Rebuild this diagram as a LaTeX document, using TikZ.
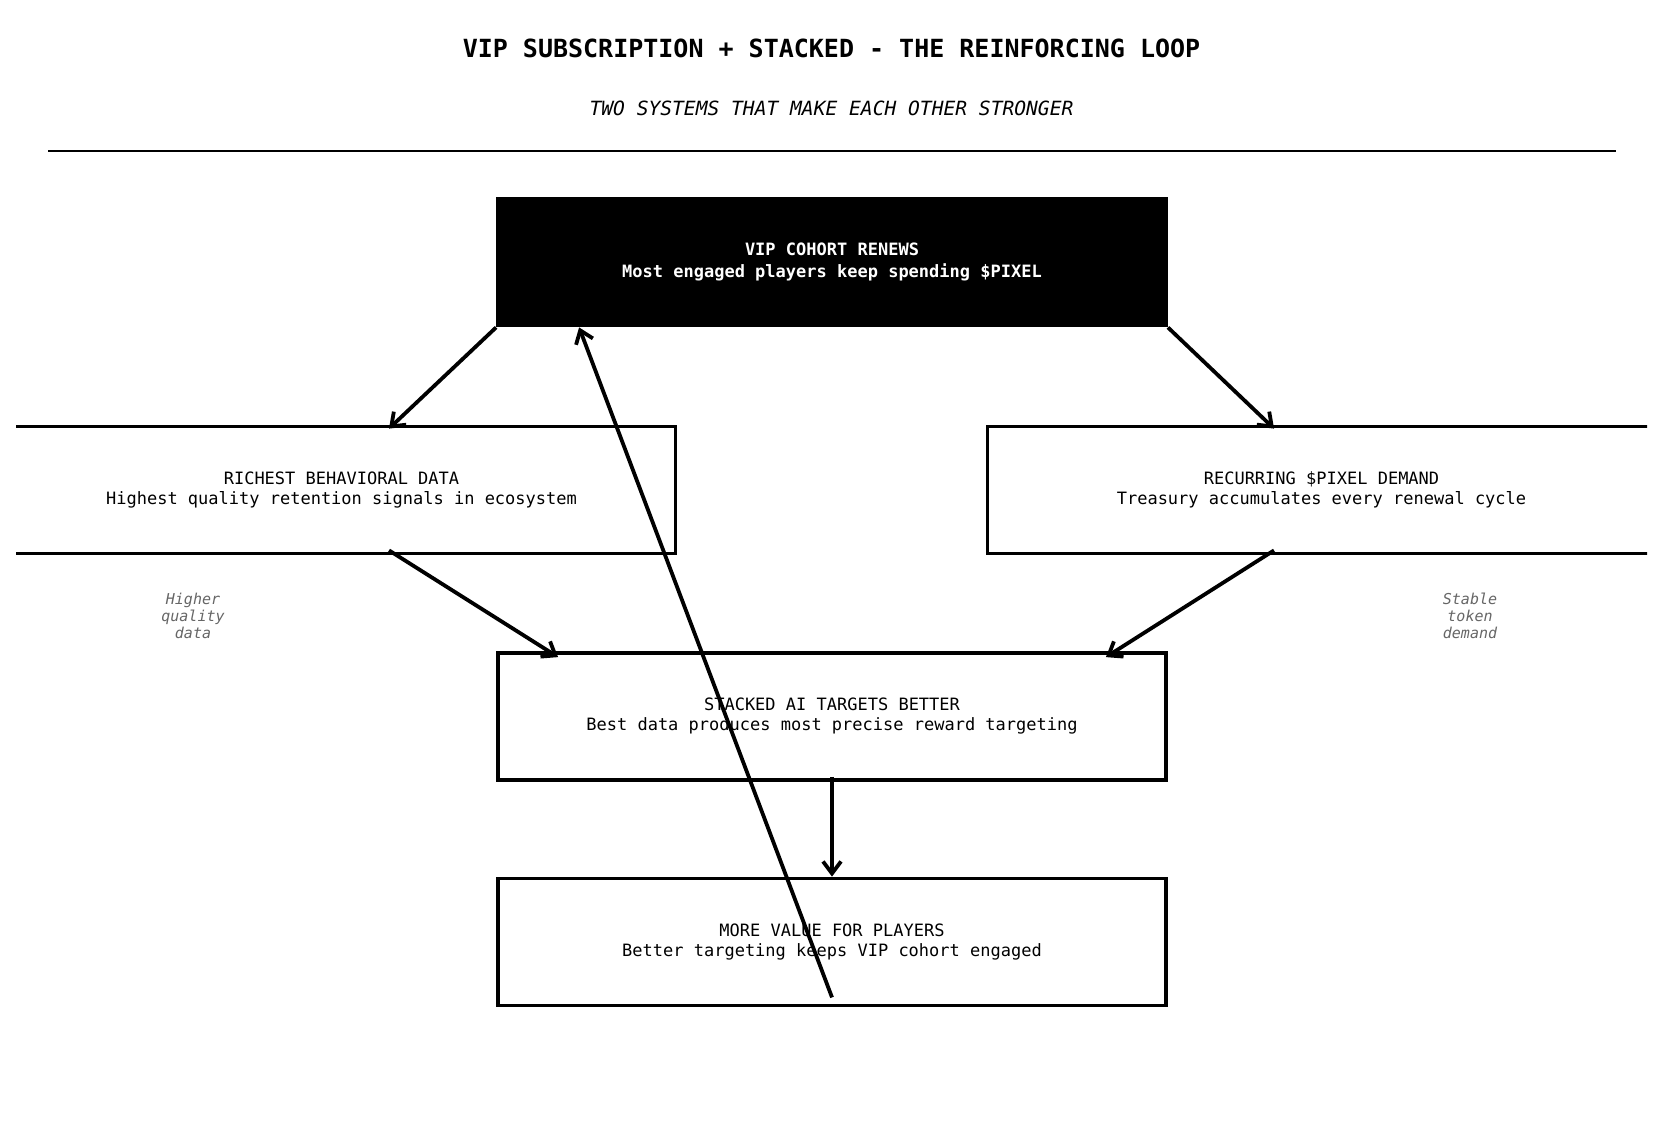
\documentclass[tikz,border=0pt]{standalone}
\usepackage{fontspec}
\setmonofont{DejaVu Sans Mono}
\usepackage{tikz}
\usetikzlibrary{positioning,arrows.meta,calc}
\definecolor{NoteGrey}{RGB}{102,102,102}

\begin{document}
\begin{tikzpicture}[
  x=0.5pt,y=-0.5pt,
  box/.style={rectangle,draw=black,line width=1.9pt,align=center,minimum width=334pt,minimum height=63.5pt,font=\ttfamily\fontsize{8.5}{10}\selectfont},
  darkbox/.style={box,fill=black,text=white,font=\ttfamily\bfseries\fontsize{8.5}{10.8}\selectfont},
  note/.style={align=center,text=NoteGrey,font=\ttfamily\itshape\fontsize{7.5}{8.5}\selectfont},
  arr/.style={-{Straight Barb[length=6pt,width=9pt]},line width=1.9pt,draw=black}
]
\useasboundingbox (0,0) rectangle (1663,1138);
\node[font=\ttfamily\bfseries\fontsize{12.5}{15}\selectfont] (title) at (831.5,48) {VIP SUBSCRIPTION + STACKED - THE REINFORCING LOOP};
\node[font=\ttfamily\itshape\fontsize{9.8}{12}\selectfont] (sub) at (831.5,108) {TWO SYSTEMS THAT MAKE EACH OTHER STRONGER};
\draw[line width=1.2pt] (48,151) -- (1616,151);
\node[darkbox] (vip) at (832,262) {VIP COHORT RENEWS\\Most engaged players keep spending \$PIXEL};
\begin{scope}
\clip (16,0) rectangle (1647,1138);
\node[box] (data) at (341.5,490) {RICHEST BEHAVIORAL DATA\\Highest quality retention signals in ecosystem};
\node[box] (demand) at (1321.5,490) {RECURRING \$PIXEL DEMAND\\Treasury accumulates every renewal cycle};
\end{scope}
\node[box] (stacked) at (832,716.5) {STACKED AI TARGETS BETTER\\Best data produces most precise reward targeting};
\node[box] (value) at (832,942) {MORE VALUE FOR PLAYERS\\Better targeting keeps VIP cohort engaged};
\node[note] (hq) at (193,616) {Higher\\quality\\data};
\node[note] (st) at (1470,616) {Stable\\token\\demand};
\draw[arr] (vip.south west) -- ($(data.north)+(47.5,4)$);
\draw[arr] (vip.south east) -- ($(demand.north)+(-47.5,4)$);
\draw[arr] ($(data.south)+(47.5,-5)$) -- ($(stacked.north west)+(62,6)$);
\draw[arr] ($(demand.south)+(-47.5,-5)$) -- ($(stacked.north east)+(-62,6)$);
\draw[arr] ($(stacked.south)+(0,-5)$) -- (value.north);
\draw[arr] ($(value.south)+(0,-10)$) -- ($(vip.south west)+(83,0)$);
\end{tikzpicture}
\end{document}
